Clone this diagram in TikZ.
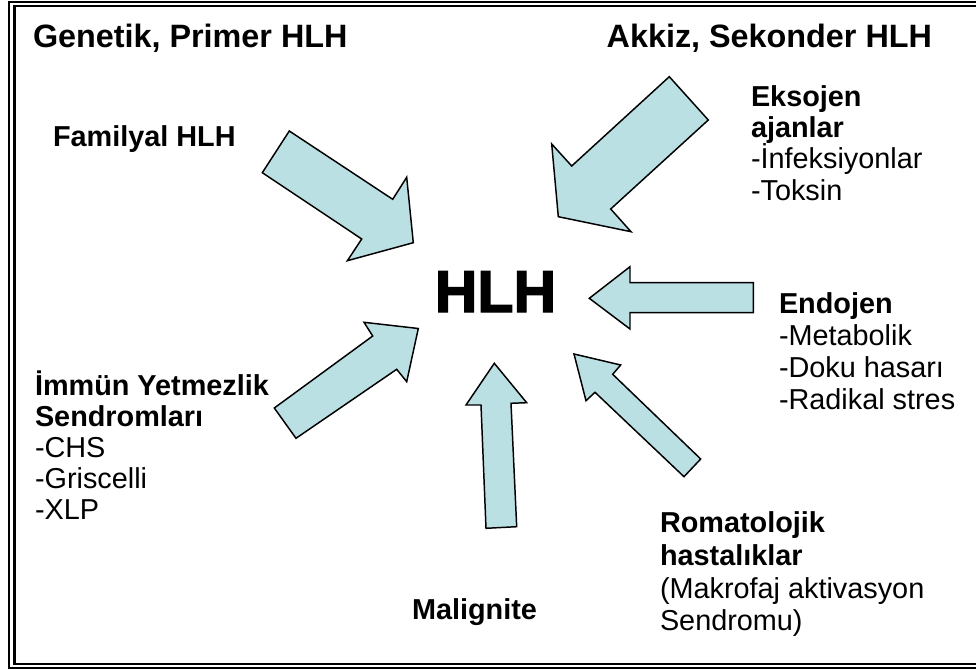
\documentclass[tikz,border=0pt]{standalone}
\usepackage{fontspec}
\setmainfont{Liberation Sans}
\newfontfamily\hlhfont{Liberation Sans}[UprightFont={* Bold}, FakeBold=2.5]
\definecolor{arrowfill}{RGB}{187,224,227}

\begin{document}
\begin{tikzpicture}[x=0.025cm, y=-0.025cm,
        every node/.style={inner sep=0pt, outer sep=0pt, anchor=base west, font=\fontsize{20.5}{24}\selectfont},
        head/.style={font=\fontsize{20.5}{24}\selectfont\bfseries},
        title/.style={font=\fontsize{23}{27}\selectfont\bfseries},
        blockarrow/.style={draw=black, fill=arrowfill, line width=1.05pt}]
            \useasboundingbox (0,0) rectangle (976,670);
            \draw[line width=1pt] (990,2) -- (9,2) -- (9,668) -- (990,668);
            \draw[line width=2pt] (990,6) -- (14.5,6) -- (14.5,664) -- (990,664);
            \draw[blockarrow] (289.3,131) -- (392.7,199.3) -- (406.7,177.3) -- (413.3,242.7) -- (347.4,260.7) -- (361.7,239) -- (262.3,172.7) -- cycle;
            \draw[blockarrow] (669.3,76.7) -- (708.3,120) -- (610.7,209) -- (631,231.7) -- (558.3,216.7) -- (551.7,144) -- (571.7,166) -- cycle;
            \draw[blockarrow] (589.3,298.3) -- (630,266.7) -- (630,282.7) -- (753.3,282.7) -- (753.3,312.7) -- (630,312.7) -- (630,329) -- cycle;
            \draw[blockarrow] (574,354) -- (620.7,365) -- (612.7,374.3) -- (700.7,459) -- (684,476.7) -- (595,392.3) -- (586,400.7) -- cycle;
            \draw[blockarrow] (494.3,363.3) -- (526.7,402.7) -- (511,403.3) -- (516.7,526.7) -- (486,528.3) -- (481,405) -- (466,405) -- cycle;
            \draw[blockarrow] (274.3,408) -- (372.7,336) -- (364,322.3) -- (418.3,328.5) -- (406.7,381.7) -- (396.7,369.3) -- (296,438.3) -- cycle;
            \node[anchor=base, font=\hlhfont\fontsize{42}{48}\selectfont] (hlh) at (495.5,312) {HLH};
            \node[title] (genetik) at (33,48) {Genetik, Primer HLH};
            \node[title, anchor=base east] (akkiz) at (932,48) {Akkiz, Sekonder HLH};
            \node[head] (familyal) at (53,147) {Familyal HLH};
            \node[head] (eksojen) at (751,107) {Eksojen};
            \node[head] (ajanlar) at (751,138) {ajanlar};
            \node (infeksiyon) at (751,169) {-İnfeksiyonlar};
            \node (toksin) at (751,200) {-Toksin};
            \node[head] (endojen) at (779,313) {Endojen};
            \node (metabolik) at (779,345) {-Metabolik};
            \node (doku) at (779,377) {-Doku hasarı};
            \node (radikal) at (779,409) {-Radikal stres};
            \node[head] (immun) at (35,395) {İmmün Yetmezlik};
            \node[head] (sendrom) at (35,426) {Sendromları};
            \node (chs) at (35,457) {-CHS};
            \node (griscelli) at (35,488) {-Griscelli};
            \node (xlp) at (35,519) {-XLP};
            \node[head] (romatolojik) at (660,532) {Romatolojik};
            \node[head] (hastalik) at (660,565) {hastalıklar};
            \node (makrofaj) at (660,598) {(Makrofaj aktivasyon};
            \node (sendromu) at (660,630) {Sendromu)};
            \node[head] (malignite) at (412,619) {Malignite};
\end{tikzpicture}
\end{document}
